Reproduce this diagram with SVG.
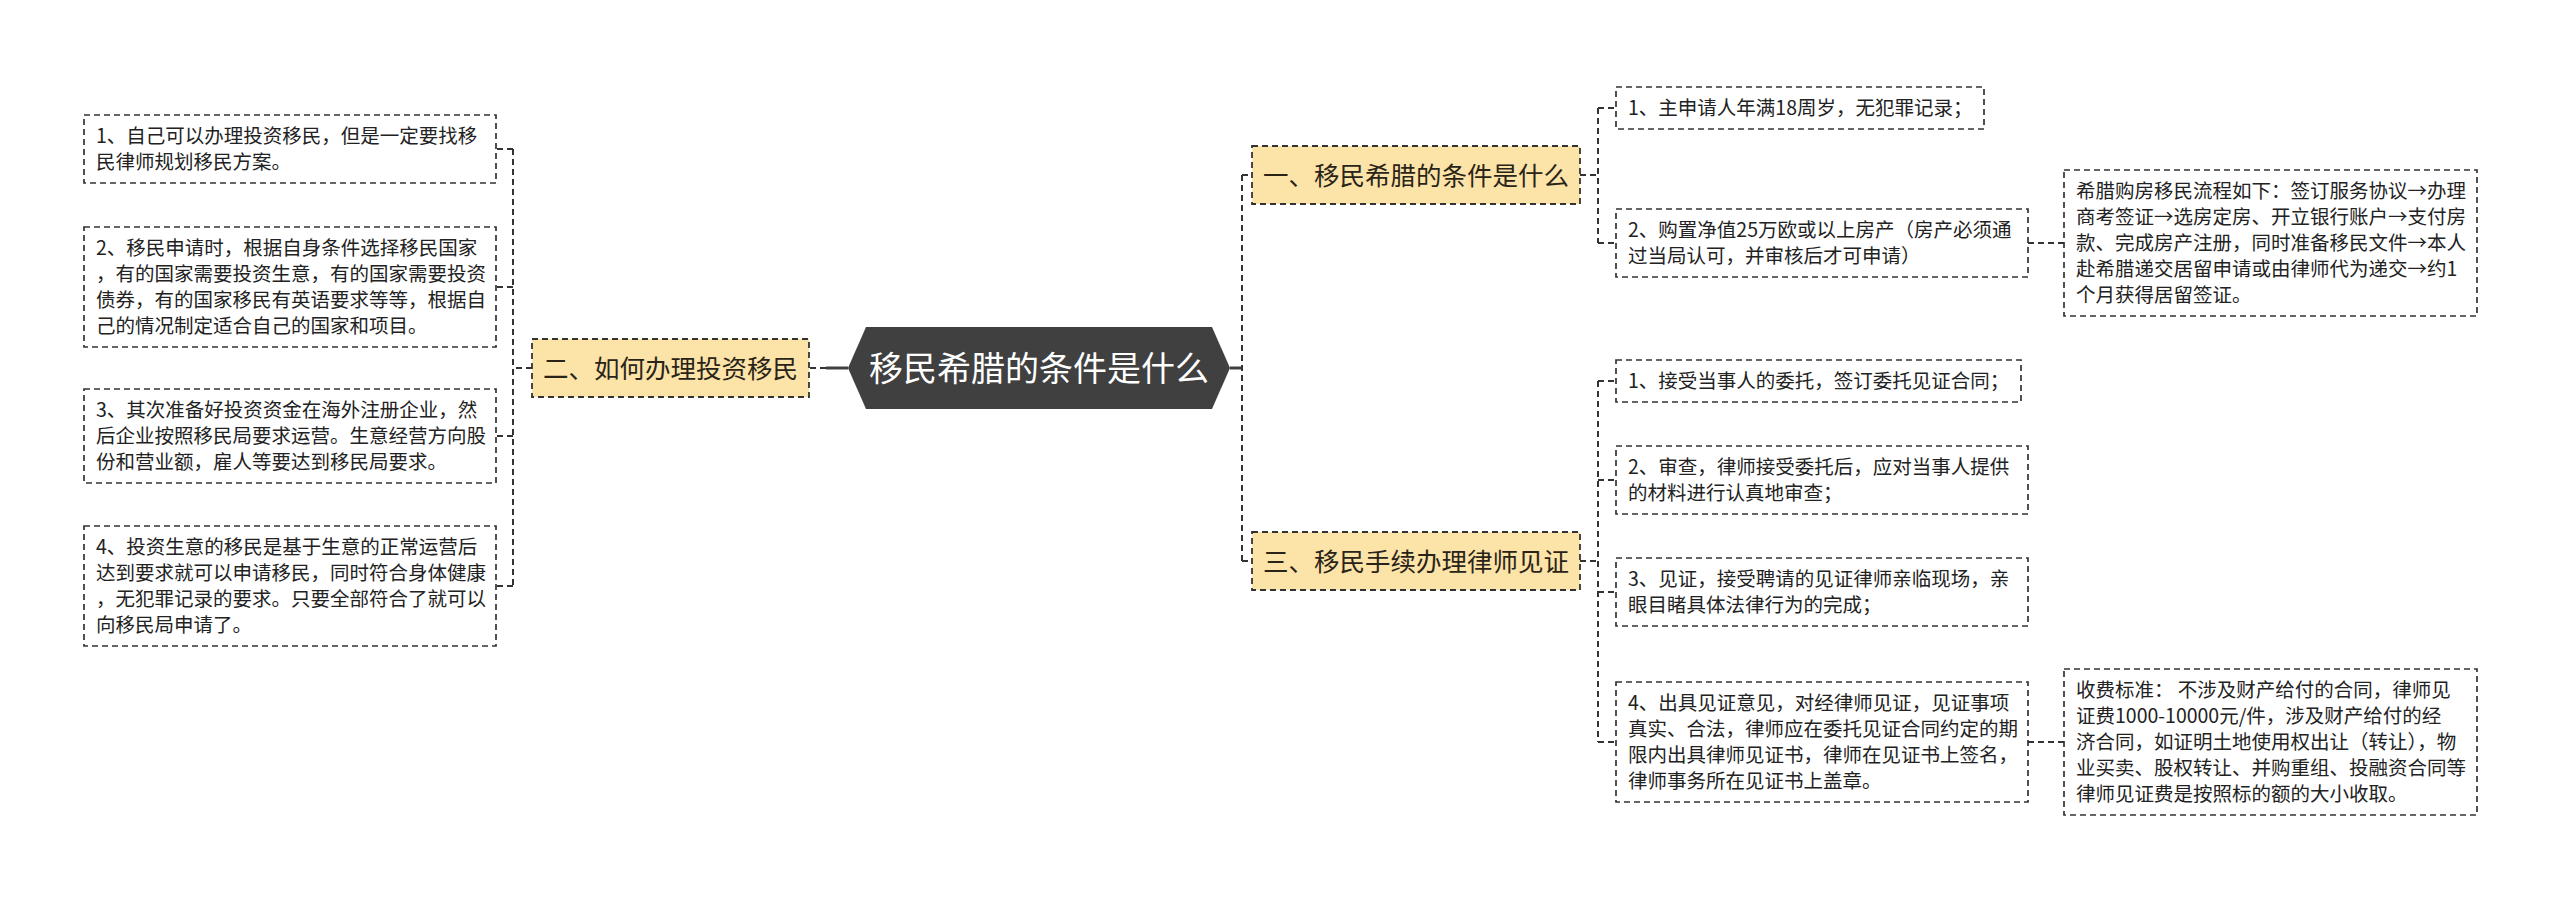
<svg xmlns="http://www.w3.org/2000/svg" width="2560" height="899" viewBox="0 0 2560 899">
<style>
.leaf{fill:#ffffff;stroke:#333333;stroke-width:1.7;stroke-dasharray:6 4}
.topic{fill:#FCE3A8;stroke:#333333;stroke-width:1.8;stroke-dasharray:6 4}
.lt{font-family:"Noto Sans CJK SC","Noto Sans",sans-serif;font-size:19.5px;fill:#222222}
.tt{font-family:"Noto Sans CJK SC","Noto Sans",sans-serif;font-size:25.5px;fill:#2a2418}
.rt{font-family:"Noto Sans CJK SC","Noto Sans",sans-serif;font-size:34px;fill:#ffffff}
.cn{fill:none;stroke:#333333;stroke-width:2;stroke-dasharray:6 4}
.cs{fill:none;stroke:#404040;stroke-width:3}
</style>
<rect width="2560" height="899" fill="#ffffff"/>
<g id="connectors">
<path class="cs" d="M848 368 H826"/>
<path class="cn" d="M826 368 H809"/>
<path class="cn" d="M532 368 H513 M513 149 V586 M513 149 H496 M513 287 H496 M513 436 H496 M513 586 H496"/>
<path class="cs" d="M1230 368 H1242"/>
<path class="cn" d="M1242 175 V561 M1242 175 H1252 M1242 561 H1252"/>
<path class="cn" d="M1580 175 H1598 M1598 108 V243 M1598 108 H1616 M1598 243 H1616 M2028 243 H2064"/>
<path class="cn" d="M1580 561 H1598 M1598 381 V742 M1598 381 H1616 M1598 480 H1616 M1598 592 H1616 M1598 742 H1616 M2028 742 H2064"/>
</g>
<g id="root">
<polygon points="848,368 866,327 1212,327 1230,368 1212,409 866,409" fill="#404040"/>
<text class="rt" x="1039" y="381" text-anchor="middle">移民希腊的条件是什么</text>
</g>
<g id="topic2">
<rect class="topic" x="532" y="339" width="277" height="58"/>
<text class="tt" x="543" y="378">二、如何办理投资移民</text>
</g>
<g id="l1">
<rect class="leaf" x="84" y="115" width="412" height="68"/>
<text class="lt" x="96" y="143">1、自己可以办理投资移民，但是一定要找移</text>
<text class="lt" x="96" y="169">民律师规划移民方案。</text>
</g>
<g id="l2">
<rect class="leaf" x="84" y="227" width="412" height="120"/>
<text class="lt" x="96" y="255">2、移民申请时，根据自身条件选择移民国家</text>
<text class="lt" x="96" y="281">，有的国家需要投资生意，有的国家需要投资</text>
<text class="lt" x="96" y="307">债券，有的国家移民有英语要求等等，根据自</text>
<text class="lt" x="96" y="333">己的情况制定适合自己的国家和项目。</text>
</g>
<g id="l3">
<rect class="leaf" x="84" y="389" width="412" height="94"/>
<text class="lt" x="96" y="417">3、其次准备好投资资金在海外注册企业，然</text>
<text class="lt" x="96" y="443">后企业按照移民局要求运营。生意经营方向股</text>
<text class="lt" x="96" y="469">份和营业额，雇人等要达到移民局要求。</text>
</g>
<g id="l4">
<rect class="leaf" x="84" y="526" width="412" height="120"/>
<text class="lt" x="96" y="554">4、投资生意的移民是基于生意的正常运营后</text>
<text class="lt" x="96" y="580">达到要求就可以申请移民，同时符合身体健康</text>
<text class="lt" x="96" y="606">，无犯罪记录的要求。只要全部符合了就可以</text>
<text class="lt" x="96" y="632">向移民局申请了。</text>
</g>
<g id="topic1">
<rect class="topic" x="1252" y="146" width="328" height="58"/>
<text class="tt" x="1263" y="185">一、移民希腊的条件是什么</text>
</g>
<g id="r1">
<rect class="leaf" x="1616" y="87" width="368" height="42"/>
<text class="lt" x="1628" y="115">1、主申请人年满18周岁，无犯罪记录；</text>
</g>
<g id="r2">
<rect class="leaf" x="1616" y="209" width="412" height="68"/>
<text class="lt" x="1628" y="237">2、购置净值25万欧或以上房产（房产必须通</text>
<text class="lt" x="1628" y="263">过当局认可，并审核后才可申请）</text>
</g>
<g id="r2c">
<rect class="leaf" x="2064" y="170" width="413" height="146"/>
<text class="lt" x="2076" y="198">希腊购房移民流程如下：签订服务协议→办理</text>
<text class="lt" x="2076" y="224">商考签证→选房定房、开立银行账户→支付房</text>
<text class="lt" x="2076" y="250">款、完成房产注册，同时准备移民文件→本人</text>
<text class="lt" x="2076" y="276">赴希腊递交居留申请或由律师代为递交→约1</text>
<text class="lt" x="2076" y="302">个月获得居留签证。</text>
</g>
<g id="topic3">
<rect class="topic" x="1252" y="532" width="328" height="58"/>
<text class="tt" x="1263" y="571">三、移民手续办理律师见证</text>
</g>
<g id="s1">
<rect class="leaf" x="1616" y="360" width="405" height="42"/>
<text class="lt" x="1628" y="388">1、接受当事人的委托，签订委托见证合同；</text>
</g>
<g id="s2">
<rect class="leaf" x="1616" y="446" width="412" height="68"/>
<text class="lt" x="1628" y="474">2、审查，律师接受委托后，应对当事人提供</text>
<text class="lt" x="1628" y="500">的材料进行认真地审查；</text>
</g>
<g id="s3">
<rect class="leaf" x="1616" y="558" width="412" height="68"/>
<text class="lt" x="1628" y="586">3、见证，接受聘请的见证律师亲临现场，亲</text>
<text class="lt" x="1628" y="612">眼目睹具体法律行为的完成；</text>
</g>
<g id="s4">
<rect class="leaf" x="1616" y="682" width="412" height="120"/>
<text class="lt" x="1628" y="710">4、出具见证意见，对经律师见证，见证事项</text>
<text class="lt" x="1628" y="736">真实、合法，律师应在委托见证合同约定的期</text>
<text class="lt" x="1628" y="762">限内出具律师见证书，律师在见证书上签名，</text>
<text class="lt" x="1628" y="788">律师事务所在见证书上盖章。</text>
</g>
<g id="s4c">
<rect class="leaf" x="2064" y="669" width="413" height="146"/>
<text class="lt" x="2076" y="697">收费标准： 不涉及财产给付的合同，律师见</text>
<text class="lt" x="2076" y="723">证费1000-10000元/件，涉及财产给付的经</text>
<text class="lt" x="2076" y="749">济合同，如证明土地使用权出让（转让），物</text>
<text class="lt" x="2076" y="775">业买卖、股权转让、并购重组、投融资合同等</text>
<text class="lt" x="2076" y="801">律师见证费是按照标的额的大小收取。</text>
</g>
</svg>
